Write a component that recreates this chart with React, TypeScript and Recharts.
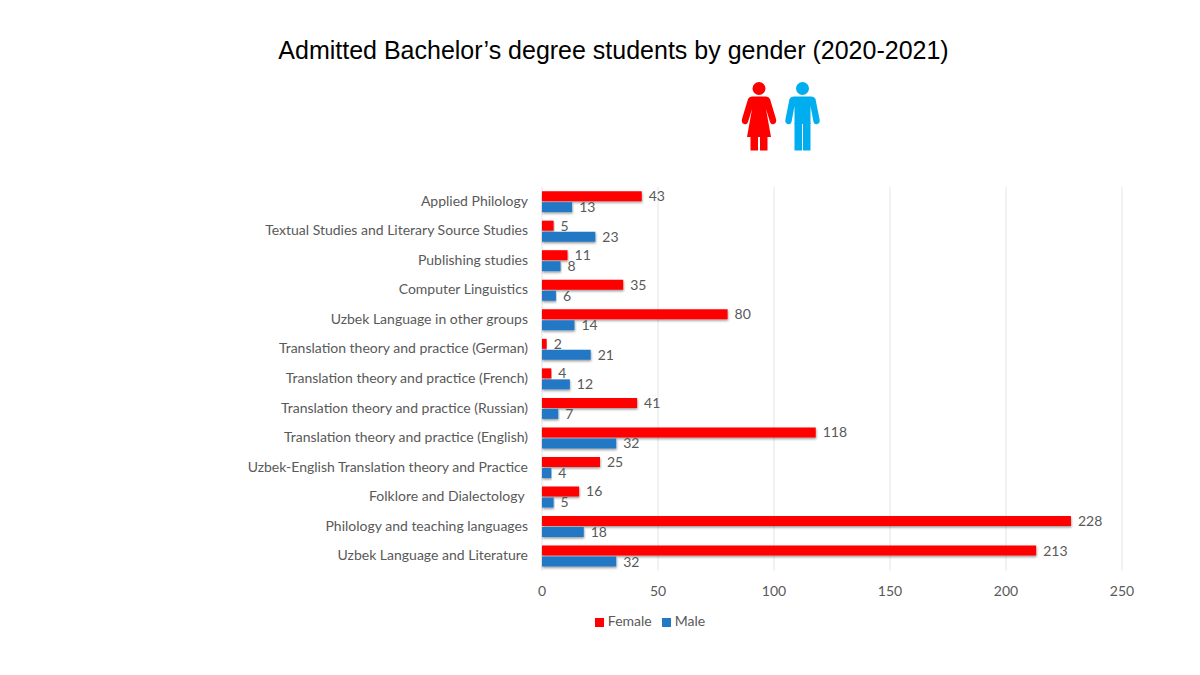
import React from 'react';
import { BarChart, Bar, XAxis, YAxis, CartesianGrid, Legend, LabelList } from 'recharts';

const categories = [
  'Applied Philology',
  'Textual Studies and Literary Source Studies',
  'Publishing studies',
  'Computer Linguistics',
  'Uzbek Language in other groups',
  'Translation theory and practice (German)',
  'Translation theory and practice (French)',
  'Translation theory and practice (Russian)',
  'Translation theory and practice (English)',
  'Uzbek-English Translation theory and Practice',
  'Folklore and Dialectology ',
  'Philology and teaching languages',
  'Uzbek Language and Literature',
];
const female = [43, 5, 11, 35, 80, 2, 4, 41, 118, 25, 16, 228, 213];
const male = [13, 23, 8, 6, 14, 21, 12, 7, 32, 4, 5, 18, 32];
const xTicks = [0, 50, 100, 150, 200, 250];

const data = categories.map((name, i) => ({ name, Female: female[i], Male: male[i] }));

const FONT = 'Lato, "Open Sans", sans-serif';
const TEXT = '#595959';

const CategoryTick = ({ x, y, payload }: any) => (
  <text x={x} y={y} dy={4} textAnchor="end" fill={TEXT} fontSize={14} fontFamily={FONT} style={{ whiteSpace: 'pre' }}>
    {payload.value}
  </text>
);

const Woman = ({ x }: { x: number }) => (
  <g transform={`translate(${x} 82)`} fill="#ff0000">
    <circle cx={17} cy={6.5} r={6.5} />
    <path d="M10 14.5 H24 Q27 14.5 28 17 L34 37 Q35 41 32 42 Q29 43 28 40 L24 27 L29 55 H5 L10 27 L6 40 Q5 43 2 42 Q-1 41 0 37 L6 17 Q7 14.5 10 14.5 Z" />
    <rect x={8.5} y={54} width={7.5} height={14.5} />
    <rect x={18} y={54} width={7.5} height={14.5} />
  </g>
);

const Man = ({ x }: { x: number }) => (
  <g transform={`translate(${x} 82)`} fill="#00aeef">
    <circle cx={17} cy={6.5} r={6.5} />
    <path d="M8 14.5 H26 Q29 14.5 30 17 L34 37 Q35 41 32 42 Q29 43 28 40 L25 24 V42 H9 V24 L6 40 Q5 43 2 42 Q-1 41 0 37 L4 17 Q5 14.5 8 14.5 Z" />
    <rect x={9} y={41} width={7.5} height={27.5} />
    <rect x={17.5} y={41} width={7.5} height={27.5} />
  </g>
);

export default function App() {
  return (
    <div style={{ position: 'absolute', left: 0, top: 0, width: 1200, height: 675, background: '#fff', overflow: 'hidden' }}>
      <div style={{ position: 'absolute', left: 0, width: 1227, top: 35, textAlign: 'center', fontFamily: '"Liberation Sans", Arial, sans-serif', fontSize: 25, lineHeight: '30px', color: '#000' }}>
        Admitted Bachelor’s degree students by gender (2020-2021)
      </div>
      <svg style={{ position: 'absolute', left: 0, top: 0 }} width={1200} height={170}>
        <Woman x={742} />
        <Man x={785.5} />
      </svg>
      <div style={{ position: 'absolute', left: 0, top: 0 }}>
        <BarChart
          width={1200}
          height={675}
          data={data}
          layout="vertical"
          margin={{ top: 187, right: 78, bottom: 46, left: 0 }}
          barGap={1}
          barCategoryGap="14%"
        >
          <defs>
            <filter id="barShadow" x="-5%" y="-30%" width="110%" height="170%">
              <feDropShadow dx={0.5} dy={1.5} stdDeviation={1} floodColor="#000" floodOpacity={0.4} />
            </filter>
          </defs>
          <CartesianGrid horizontal={false} stroke="#e4e4e4" />
          <XAxis
            type="number"
            domain={[0, 250]}
            ticks={xTicks}
            axisLine={false}
            tickLine={false}
            height={41}
            tickMargin={9}
            tick={{ fill: TEXT, fontSize: 14, fontFamily: FONT }}
          />
          <YAxis
            type="category"
            dataKey="name"
            width={542}
            interval={0}
            axisLine={false}
            tickLine={false}
            tickMargin={8}
            tick={<CategoryTick />}
          />
          <Legend
            verticalAlign="bottom"
            iconType="square"
            iconSize={9}
            wrapperStyle={{ position: 'absolute', left: 0, width: 1310, top: 612, bottom: 'auto', fontFamily: FONT, fontSize: 14 }}
            formatter={(value: string) => <span style={{ color: TEXT }}>{value}</span>}
          />
          <Bar dataKey="Female" fill="#ff0000" isAnimationActive={false} filter="url(#barShadow)">
            <LabelList dataKey="Female" position="right" offset={7} fill={TEXT} fontSize={14} fontFamily={FONT} />
          </Bar>
          <Bar dataKey="Male" fill="#2478c4" isAnimationActive={false} filter="url(#barShadow)">
            <LabelList dataKey="Male" position="right" offset={7} fill={TEXT} fontSize={14} fontFamily={FONT} />
          </Bar>
        </BarChart>
      </div>
    </div>
  );
}
